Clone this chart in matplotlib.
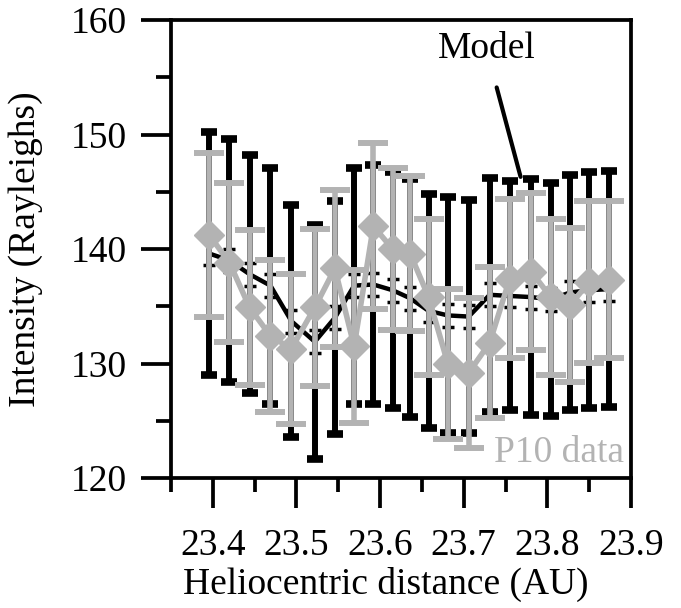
import numpy as np
import matplotlib
matplotlib.use('Agg')
import matplotlib.pyplot as plt
from matplotlib.ticker import MultipleLocator

plt.rcParams['font.family'] = ['Liberation Serif', 'DejaVu Serif']

# Heliocentric distance (AU) of each sample
distance = [23.396, 23.420, 23.444, 23.469, 23.494, 23.522, 23.546, 23.569,
            23.592, 23.615, 23.636, 23.658, 23.681, 23.706, 23.731, 23.755,
            23.781, 23.804, 23.827, 23.850, 23.874]

# Model intensity and its error (Rayleighs)
model = [139.6, 139.0, 137.8, 136.8, 133.7, 131.9, 134.0, 136.8, 136.9, 136.4, 135.7,
         134.6, 134.2, 134.1, 136.0, 135.9, 135.8, 135.6, 136.2, 136.4, 136.5]
model_err = [10.6, 10.6, 10.4, 10.3, 10.1, 10.2, 10.2, 10.3, 10.4, 10.3, 10.4,
             10.2, 10.3, 10.2, 10.2, 10.0, 10.3, 10.2, 10.3, 10.3, 10.3]
model_small_err = 1.0

# Pioneer 10 data and its error (Rayleighs)
p10 = [141.2, 138.8, 134.9, 132.4, 131.3, 134.9, 138.3, 131.5, 142.0, 140.0, 139.6,
       135.8, 130.0, 129.2, 131.8, 137.4, 138.0, 135.8, 135.1, 137.1, 137.3]
p10_err = [7.15, 6.95, 6.8, 6.65, 6.55, 6.85, 6.85, 6.7, 7.25, 7.05, 6.75,
           6.8, 6.55, 6.55, 6.6, 6.95, 6.85, 6.8, 6.75, 7.05, 6.85]

GRAY = '#b3b3b3'
FS = 27

fig = plt.figure(figsize=(6.81, 6.08), dpi=100)
ax = fig.add_axes([0.251, 0.2138, 0.6756, 0.7533])

# model: big error bars
ax.errorbar(distance, model, yerr=model_err, fmt='none', ecolor='black',
            elinewidth=4.3, capsize=5.5, capthick=5.5, zorder=2)
# model line with its small error bars
ax.errorbar(distance, model, yerr=model_small_err, fmt='-', color='black', lw=3.2,
            elinewidth=2.5, capsize=4, capthick=2.5, zorder=3)

# P10 data
ax.errorbar(distance, p10, yerr=p10_err, fmt='-D', color=GRAY, lw=4, ms=15,
            mfc=GRAY, mec=GRAY, ecolor=GRAY, elinewidth=4, capsize=11,
            capthick=4.3, zorder=4)

ax.set_ylim(120, 160)
ax.xaxis.set_major_locator(MultipleLocator(0.1))
ax.xaxis.set_minor_locator(MultipleLocator(0.05))
ax.yaxis.set_major_locator(MultipleLocator(10))
ax.yaxis.set_minor_locator(MultipleLocator(5))

for s in ax.spines.values():
    s.set_linewidth(2.7)
ax.tick_params(which='both', direction='out', width=2.7, labelsize=FS,
               top=False, right=False)
ax.tick_params(axis='x', which='major', length=21.5, pad=15)
ax.tick_params(axis='x', which='minor', length=10)
ax.tick_params(axis='y', which='major', length=21.5, pad=10)
ax.tick_params(axis='y', which='minor', length=10.5)
ax.set_xticks(np.arange(23.4, 23.91, 0.1))
ax.set_xticklabels([f'{t:.1f}' for t in np.arange(23.4, 23.91, 0.1)])
ax.set_xlim(23.35, 23.9)

ax.set_xlabel('Heliocentric distance (AU)', fontsize=FS)
ax.xaxis.set_label_coords(0.467, -0.195)
ax.set_ylabel('Intensity (Rayleighs)', fontsize=FS)
ax.yaxis.set_label_coords(-0.278, 0.5)

ax.annotate('Model', xy=(23.768, 146.3), xytext=(23.727, 157.5),
            fontsize=FS, ha='center', va='center',
            arrowprops=dict(arrowstyle='-', color='black', lw=3, shrinkA=14, shrinkB=0))
ax.text(23.892, 121.4, 'P10 data', fontsize=FS, color=GRAY, ha='right', va='baseline',
        zorder=5)

fig.savefig('out.png', dpi=100)
